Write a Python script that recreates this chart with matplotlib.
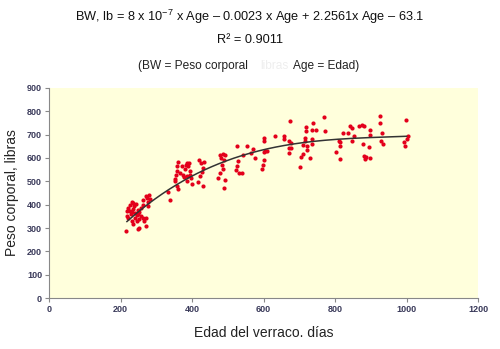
import numpy as np
import matplotlib.pyplot as plt

plt.rcParams['font.family'] = ['Liberation Sans', 'DejaVu Sans']
plt.rcParams['mathtext.fontset'] = 'custom'
plt.rcParams['mathtext.rm'] = 'Liberation Sans'
plt.rcParams['mathtext.default'] = 'regular'

# boar age (days) and body weight (lb)
age = [214, 217, 219, 222, 227, 231, 236, 239, 222, 226, 230, 234, 241, 245, 250, 252,
       257, 262, 231, 236, 240, 245, 249, 252, 257, 262, 266, 270, 272, 276, 248, 253,
       262, 270, 275, 280, 283, 278, 243, 232,
       332, 338, 352, 355, 357, 359, 362, 366, 371, 374, 378, 380, 383, 385, 390, 393,
       394, 396, 399, 362, 357, 352, 385, 387, 394,
       420, 425, 427, 422, 432, 430, 434, 418,
       474, 478, 483, 480, 486, 490, 492, 487, 492, 490, 478,
       523, 527, 530, 532, 527, 544, 553, 539, 565, 570, 575,
       595, 598, 602, 602, 605, 609, 602, 602, 632, 656, 656, 674, 672, 676, 672, 678,
       672, 702, 705, 711, 711, 716, 716, 719, 719, 721, 721, 730, 736, 737, 737, 739,
       747, 770, 771, 803, 811, 813, 815, 813, 823, 836, 841, 848, 853, 848, 866, 875,
       881, 878, 881, 884, 887, 898, 898, 896, 898, 926, 926, 931, 929, 935, 993, 995,
       998, 1001, 1004]
weight = [286, 350, 371, 386, 400, 410, 407, 393, 345, 372, 362, 380, 365, 355, 378, 340,
          385, 398, 330, 318, 345, 332, 360, 370, 350, 345, 330, 307, 342, 412, 296, 300,
          420, 436, 430, 440, 425, 395, 402, 368,
          453, 419, 510, 529, 543, 567, 581, 536, 564, 529, 519, 553, 571, 579, 564, 579,
          543, 514, 490, 467, 479, 500, 500, 521, 529,
          593, 579, 539, 521, 479, 557, 581, 496,
          514, 536, 571, 600, 619, 593, 614, 553, 507, 471, 614,
          550, 567, 586, 536, 650, 614, 650, 536, 620, 640, 600,
          553, 571, 590, 624, 629, 629, 673, 687, 694, 694, 680, 757, 671, 664, 643, 643,
          622, 561, 603, 618, 657, 671, 686, 731, 714, 653, 636, 600, 661, 681, 718, 750,
          718, 776, 717, 626, 671, 653, 667, 596, 707, 707, 736, 729, 694, 671, 736, 743,
          739, 661, 607, 597, 604, 721, 700, 647, 600, 780, 750, 707, 671, 661, 667, 650,
          761, 681, 693]

# trend line coefficients as printed above the chart (cubic)
coefs = [8e-7, -0.0023, 2.2561, -63.1]

xticks = [0, 200, 400, 600, 800, 1000, 1200]
yticks = [0, 100, 200, 300, 400, 500, 600, 700, 800, 900]

fig = plt.figure(figsize=(5, 3.49), dpi=100)
ax = fig.add_axes([0.098, 0.146, 0.858, 0.602])
ax.set_facecolor('#ffffdc')

ax.scatter(age, weight, s=9, color='#e3001b', zorder=3, linewidths=0)
xs = np.linspace(min(age) + 4, 1000, 200)
ax.plot(xs, np.polyval(coefs, xs), color='#333333', lw=1.1, zorder=4)

ax.set_xlim(0, 1200)
ax.set_ylim(0, 900)
ax.set_xticks(xticks)
ax.set_yticks(yticks)
for s in ['top', 'right']:
    ax.spines[s].set_visible(False)
for s in ['left', 'bottom']:
    ax.spines[s].set_color('#888888')
    ax.spines[s].set_linewidth(0.8)
ax.tick_params(direction='out', length=3, width=0.8, color='#888888',
               labelsize=6.5, labelcolor='#3a3a5a', pad=2)
for lab in ax.get_xticklabels() + ax.get_yticklabels():
    lab.set_fontweight('bold')

ax.set_xlabel('Edad del verraco. días', fontsize=10, color='#222222', labelpad=9)
ax.set_ylabel('Peso corporal, libras', fontsize=10, color='#222222', labelpad=6)

fig.text(0.5, 0.952, r'BW, lb = 8 x 10$^{-7}$ x Age – 0.0023 x Age + 2.2561x Age – 63.1',
         ha='center', va='center', fontsize=9.2, color='#111111')
fig.text(0.5, 0.885, 'R² = 0.9011', ha='center', va='center', fontsize=9.2, color='#111111')
fig.text(0.496, 0.81, '(BW = Peso corporal', ha='right', va='center', fontsize=8.6, color='#222222')
fig.text(0.548, 0.81, 'libras', ha='center', va='center', fontsize=8.6, color='#eeeeee')
fig.text(0.586, 0.81, 'Age = Edad)', ha='left', va='center', fontsize=8.6, color='#222222')

fig.savefig('out.png', dpi=100)
